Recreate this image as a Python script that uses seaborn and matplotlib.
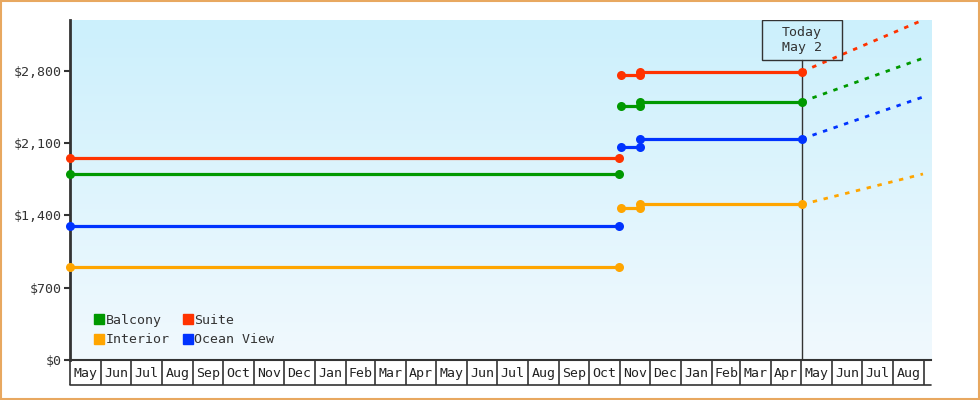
import numpy as np
import pandas as pd
import matplotlib.pyplot as plt
import matplotlib.dates as mdates
import seaborn as sns
from matplotlib.colors import LinearSegmentedColormap
from matplotlib.lines import Line2D
from matplotlib.patches import Rectangle

# chart data
cabins = ["Balcony", "Interior", "Suite", "Ocean View"]
colors = ["#009900", "#ffa500", "#ff3300", "#0033ff"]
old_prices = [1800, 900, 1950, 1300]
nov_prices = [2460, 1470, 2755, 2060]
current_prices = [2500, 1505, 2790, 2140]
projected_prices = [2920, 1800, 3290, 2545]

start_date = pd.Timestamp("2023-05-01")
old_end = pd.Timestamp("2024-10-31")
new_start = pd.Timestamp("2024-11-02")
change_date = pd.Timestamp("2024-11-21")
today = pd.Timestamp("2025-05-02")
proj_end = pd.Timestamp("2025-08-31")
axis_end = pd.Timestamp("2025-09-08")

rows = []
proj_rows = []
for cab, o, n, c, p in zip(cabins, old_prices, nov_prices, current_prices, projected_prices):
    rows += [(cab, "old", start_date, o), (cab, "old", old_end, o)]
    rows += [(cab, "new", new_start, n), (cab, "new", change_date, n),
             (cab, "new", change_date, c), (cab, "new", today, c)]
    proj_rows += [(cab, "proj", today, c), (cab, "proj", proj_end, p)]
hist = pd.DataFrame(rows, columns=["cabin", "segment", "date", "price"])
proj = pd.DataFrame(proj_rows, columns=["cabin", "segment", "date", "price"])
palette = dict(zip(cabins, colors))

sns.set_style("white")
plt.rcParams["font.family"] = ["DejaVu Sans Mono"]
plt.rcParams["font.size"] = 9.5

fig = plt.figure(figsize=(9.8, 4), dpi=100)
ax = fig.add_axes([70 / 980, 40 / 400, 861 / 980, 340 / 400])

# background gradient
grad = LinearSegmentedColormap.from_list("bg", ["#f1f9fe", "#ccf0fc"])
ax.imshow(np.linspace(0, 1, 256).reshape(-1, 1), cmap=grad, origin="lower",
          extent=[0, 1, 0, 1], transform=ax.transAxes, aspect="auto", zorder=0)

sns.lineplot(data=hist, x="date", y="price", hue="cabin", units="segment",
             estimator=None, sort=False, palette=palette, marker="o",
             markersize=6.5, markeredgewidth=0, linewidth=2.3, legend=False,
             ax=ax, zorder=3, clip_on=False)
sns.lineplot(data=proj, x="date", y="price", hue="cabin", units="segment",
             estimator=None, sort=False, palette=palette, linewidth=2,
             linestyle=(0, (1.6, 2.4)), legend=False, ax=ax, zorder=3)

ax.set_xlim(start_date, axis_end)
ax.set_ylim(0, max(projected_prices))

# today marker
ax.axvline(today, ymin=0, ymax=300 / 340, color="#333333", lw=1, zorder=2)
tx = (mdates.date2num(today) - mdates.date2num(start_date)) / \
     (mdates.date2num(axis_end) - mdates.date2num(start_date))
ax.add_patch(Rectangle((tx - 40 / 861, 300 / 340), 80 / 861, 40 / 340,
                       transform=ax.transAxes, fill=False, ec="#333333", lw=1,
                       zorder=4))
ax.text(tx, 320 / 340, "Today\n" + today.strftime("%b ") + str(today.day),
        transform=ax.transAxes, ha="center", va="center", color="#333333",
        linespacing=1.25, zorder=5)

# y axis
ax.set_yticks([0, 700, 1400, 2100, 2800])
ax.yaxis.set_major_formatter(plt.FuncFormatter(lambda v, _: f"${v:,.0f}"))
ax.tick_params(axis="y", left=True, length=4, width=1.5, color="#333333",
               labelcolor="#333333", pad=2)
ax.set_xlabel("")
ax.set_ylabel("")

# month boxes under the axis
month_starts = pd.date_range(start_date, axis_end, freq="MS")
mids = [m + (m + pd.offsets.MonthBegin(1) - m) / 2 for m in month_starts[:-1]]
ax.set_xticks(month_starts, minor=True)
ax.set_xticks(mids)
ax.set_xticklabels([m.strftime("%b") for m in month_starts[:-1]])
ax.tick_params(axis="x", which="major", bottom=True, length=0, pad=5,
               labelcolor="#222222")
ax.tick_params(axis="x", which="minor", bottom=True, length=18, width=1.2,
               color="#333333", direction="out")
fig.add_artist(Line2D([70 / 980, 931 / 980], [15 / 400, 15 / 400],
                      color="#333333", lw=1.2))

for side in ["top", "right"]:
    ax.spines[side].set_visible(False)
ax.spines["left"].set_color("#333333")
ax.spines["left"].set_linewidth(2)
ax.spines["bottom"].set_color("#333333")
ax.spines["bottom"].set_linewidth(1.5)

# legend
handles = [Line2D([], [], marker="s", ls="", color=c, markersize=7) for c in colors]
ax.legend(handles, cabins, ncol=2, loc="lower left", bbox_to_anchor=(0.015, 0.005),
          frameon=False, handlelength=0.7, handletextpad=0.15, columnspacing=1.0,
          labelspacing=0.5, fontsize=9.5, labelcolor="#333333")

# outer border
fig.add_artist(Rectangle((0.001, 0.002), 0.998, 0.995, transform=fig.transFigure,
                         fill=False, ec="#e8a860", lw=1.5))

plt.savefig("out.png", dpi=100)
